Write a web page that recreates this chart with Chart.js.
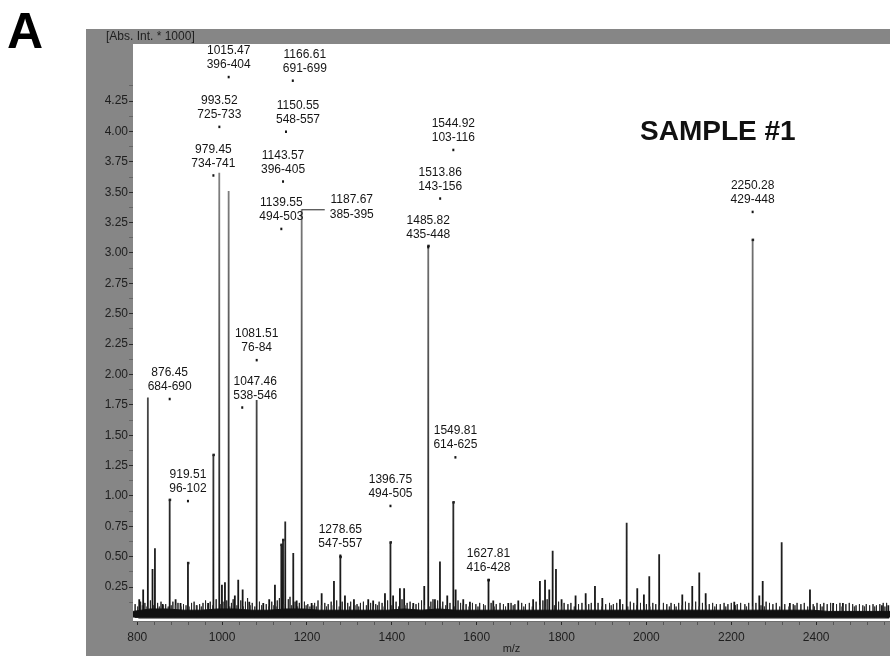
<!DOCTYPE html>
<html>
<head>
<meta charset="utf-8">
<script src="https://cdn.jsdelivr.net/npm/chart.js@4/dist/chart.umd.min.js"></script>
<style>
  html, body { margin: 0; padding: 0; background: #fff; overflow: hidden; }
  canvas { display: block; }
</style>
</head>
<body>
<canvas id="spectrum" width="890" height="656"></canvas>
<script>
// peaks that stand out of the noise (m/z, intensity * 1000)
const peakMz = [
  804.7, 814, 825, 836, 841.7, 860, 876.45, 890.4, 902, 919.51,
  940, 967, 979.45, 993.3, 999.6, 1006.7, 1015.4, 1030, 1038, 1048.4,
  1064, 1081.4, 1097, 1111, 1124.5, 1139.55, 1143.57, 1148.8, 1167.7, 1175.7,
  1187.5, 1211, 1234.6, 1263.6, 1278.65, 1289.5, 1310.7, 1344.4, 1356, 1383.8,
  1396.75, 1403, 1419, 1429, 1450.5, 1476.4, 1485.82, 1501.6, 1513.4, 1530.6,
  1544.92, 1550.4, 1568.3, 1584, 1627.81, 1639, 1674.4, 1698, 1733, 1749,
  1761, 1771, 1779, 1786.8, 1800, 1833, 1856.8, 1878.7, 1896, 1937.6,
  1953.4, 1978.4, 1994, 2006.7, 2030, 2084.5, 2108, 2124.5, 2139.6, 2207,
  2250.28, 2266, 2274, 2318.7, 2338, 2385.4, 2440, 2463, 2555, 2570
]
const peakHeight = [
  0.15, 0.23, 1.81, 0.40, 0.57, 0.11, 0.97, 0.15, 0.12, 0.45,
  0.10, 0.12, 1.34, 3.66, 0.27, 0.29, 3.51, 0.18, 0.31, 0.23,
  0.13, 1.79, 0.12, 0.15, 0.27, 0.60, 0.64, 0.79, 0.53, 0.14,
  3.36, 0.12, 0.20, 0.30, 0.50, 0.18, 0.15, 0.15, 0.14, 0.20,
  0.62, 0.18, 0.24, 0.24, 0.12, 0.26, 3.06, 0.15, 0.46, 0.18,
  0.95, 0.23, 0.15, 0.13, 0.31, 0.14, 0.12, 0.14, 0.15, 0.30,
  0.31, 0.23, 0.55, 0.40, 0.15, 0.18, 0.20, 0.26, 0.16, 0.15,
  0.78, 0.24, 0.19, 0.34, 0.52, 0.19, 0.26, 0.37, 0.20, 0.13,
  3.11, 0.18, 0.30, 0.62, 0.12, 0.23, 0.12, 0.12, 0.10, 0.10
]

// small grass peaks on top of the baseline noise
const grassMz = [
  795, 808, 818, 831, 848, 856, 867, 884, 896, 909, 928, 934, 947, 955, 961,
  972, 986, 1002, 1011, 1022, 1026, 1044, 1055, 1060, 1071, 1088, 1104, 1117, 1130, 1135,
  1156, 1160, 1172, 1182, 1194, 1202, 1218, 1226, 1242, 1250, 1257, 1270, 1283, 1296, 1303,
  1318, 1326, 1333, 1350, 1362, 1370, 1377, 1390, 1410, 1424, 1436, 1443, 1457, 1463, 1470,
  1492, 1497, 1508, 1520, 1537, 1556, 1562, 1575, 1590, 1598, 1607, 1616, 1634, 1646, 1655,
  1663, 1681, 1690, 1706, 1715, 1724, 1740, 1756, 1766, 1793, 1806, 1815, 1822, 1840, 1848,
  1864, 1870, 1886, 1904, 1913, 1922, 1930, 1944, 1962, 1970, 1986, 2000, 2015, 2022, 2040,
  2048, 2058, 2066, 2076, 2092, 2100, 2116, 2132, 2148, 2156, 2165, 2174, 2183, 2192, 2200,
  2214, 2222, 2232, 2241, 2258, 2282, 2290, 2298, 2306, 2326, 2346, 2355, 2364, 2372, 2393,
  2402, 2410, 2418, 2426, 2434, 2448, 2456, 2470, 2478, 2486, 2494, 2502, 2510, 2518, 2526,
  2534, 2542, 2550, 2558, 2566
]
const grassHeight = [
  0.11, 0.13, 0.12, 0.14, 0.12, 0.13, 0.11, 0.13, 0.12, 0.11, 0.12, 0.13, 0.11, 0.12, 0.14,
  0.13, 0.15, 0.13, 0.14, 0.12, 0.15, 0.14, 0.13, 0.16, 0.12, 0.13, 0.11, 0.13, 0.14, 0.16,
  0.15, 0.17, 0.13, 0.12, 0.13, 0.11, 0.12, 0.14, 0.12, 0.11, 0.13, 0.14, 0.13, 0.12, 0.13,
  0.11, 0.12, 0.13, 0.12, 0.11, 0.13, 0.12, 0.14, 0.13, 0.15, 0.12, 0.13, 0.11, 0.12, 0.14,
  0.13, 0.15, 0.14, 0.13, 0.12, 0.14, 0.12, 0.11, 0.12, 0.11, 0.12, 0.11, 0.12, 0.11, 0.12,
  0.11, 0.12, 0.11, 0.12, 0.11, 0.12, 0.13, 0.14, 0.15, 0.13, 0.12, 0.11, 0.12, 0.11, 0.12,
  0.11, 0.12, 0.12, 0.11, 0.12, 0.11, 0.12, 0.11, 0.13, 0.12, 0.12, 0.11, 0.12, 0.11, 0.12,
  0.11, 0.12, 0.11, 0.12, 0.13, 0.12, 0.13, 0.12, 0.11, 0.12, 0.11, 0.11, 0.12, 0.11, 0.12,
  0.11, 0.12, 0.11, 0.12, 0.12, 0.13, 0.12, 0.11, 0.12, 0.11, 0.11, 0.12, 0.11, 0.12, 0.11,
  0.12, 0.11, 0.12, 0.11, 0.12, 0.11, 0.12, 0.11, 0.12, 0.11, 0.10, 0.11, 0.10, 0.11, 0.10,
  0.11, 0.10, 0.11, 0.12, 0.12
]

// finer fuzz between the grass peaks
const fuzzMz = [
  801, 812, 823, 838, 852, 862, 873, 880, 890, 903, 915, 922, 940, 951, 966,
  978, 997, 1007, 1018, 1035, 1050, 1066, 1077, 1093, 1110, 1122, 1127, 1145, 1164, 1178,
  1198, 1207, 1214, 1222, 1234, 1246, 1262, 1276, 1290, 1300, 1313, 1322, 1340, 1356, 1366,
  1382, 1400, 1416, 1431, 1450, 1477, 1488, 1503, 1515, 1527, 1548, 1568, 1582, 1603, 1620,
  1641, 1668, 1686, 1711, 1731, 1748, 1761, 1783, 1800, 1830, 1857, 1878, 1895, 1917, 1938,
  1956, 1977, 1994, 2008, 2030, 2054, 2070, 2084, 2108, 2124, 2140, 2161, 2187, 2210, 2236,
  2250, 2270, 2278, 2314, 2336, 2350, 2380, 2396, 2414, 2440, 2461, 2490, 2514, 2538, 2562
]
const fuzzHeight = [
  0.09, 0.10, 0.09, 0.10, 0.09, 0.10, 0.09, 0.10, 0.10, 0.09, 0.10, 0.09, 0.10, 0.09, 0.10,
  0.10, 0.11, 0.10, 0.09, 0.10, 0.09, 0.10, 0.09, 0.10, 0.09, 0.10, 0.09, 0.11, 0.10, 0.09,
  0.10, 0.09, 0.10, 0.09, 0.10, 0.09, 0.10, 0.09, 0.10, 0.09, 0.10, 0.09, 0.10, 0.09, 0.10,
  0.09, 0.10, 0.09, 0.10, 0.09, 0.10, 0.09, 0.10, 0.09, 0.10, 0.09, 0.10, 0.09, 0.09, 0.10,
  0.09, 0.09, 0.10, 0.09, 0.09, 0.10, 0.09, 0.10, 0.09, 0.09, 0.10, 0.09, 0.09, 0.10, 0.09,
  0.09, 0.10, 0.09, 0.09, 0.10, 0.09, 0.09, 0.10, 0.09, 0.09, 0.10, 0.09, 0.09, 0.10, 0.09,
  0.09, 0.10, 0.09, 0.09, 0.09, 0.10, 0.09, 0.09, 0.09, 0.10, 0.09, 0.09, 0.09, 0.09, 0.09
]

// dense baseline noise band
const noiseMz = [
  790, 830, 870, 910, 950, 990, 1030, 1070, 1110, 1150, 1190, 1230, 1270, 1310, 1350, 1390,
  1430, 1470, 1510, 1550, 1590, 1630, 1670, 1710, 1750, 1790, 1830, 1870, 1910, 1950, 1990,
  2030, 2070, 2110, 2150, 2190, 2230, 2270, 2310, 2350, 2390, 2430, 2470, 2510, 2550, 2590
]
const noiseHeight = [
  0.05, 0.07, 0.07, 0.06, 0.06, 0.07, 0.07, 0.06, 0.06, 0.07, 0.07, 0.06, 0.06, 0.06, 0.06, 0.06,
  0.07, 0.06, 0.07, 0.06, 0.06, 0.06, 0.06, 0.06, 0.06, 0.06, 0.06, 0.06, 0.06, 0.06, 0.06,
  0.06, 0.06, 0.06, 0.06, 0.06, 0.06, 0.06, 0.06, 0.06, 0.06, 0.05, 0.05, 0.05, 0.05, 0.05
]

// annotations: m/z, height of the marker dot, peptide range
const labelMz = [876.45, 919.51, 979.45, 993.52, 1015.47, 1047.46, 1081.51, 1139.55, 1143.57, 1150.55,
  1166.61, 1187.67, 1278.65, 1396.75, 1485.82, 1513.86, 1544.92, 1549.81, 1627.81, 2250.28]
const labelHeight = [1.80, 0.96, 3.64, 4.04, 4.45, 1.73, 2.12, 3.20, 3.59, 4.00,
  4.42, 3.36, 0.51, 0.92, 3.05, 3.45, 3.85, 1.32, 0.31, 3.34]
const labelRange = ['684-690', '96-102', '734-741', '725-733', '396-404', '538-546', '76-84', '494-503', '396-405', '548-557',
  '691-699', '385-395', '547-557', '494-505', '435-448', '143-156', '103-116', '614-625', '416-428', '429-448']

const GRAY = '#868686'
const FONT = '"Liberation Sans", Arial, sans-serif'
// a few labels sit right of their dot, one hangs on a leader line
const labelShift = {'1047.46': 13, '1150.55': 12, '1166.61': 12}
const leaderLabels = ['1187.67']

function sticks(mz, h){
    const pts = []
    for (let i = 0; i < mz.length; i++){
        pts.push({x: mz[i], y: 0}, {x: mz[i], y: h[i]}, {x: mz[i], y: 0})
    }
    return pts
}

const framePlugin = {
    id: 'frame',
    beforeDraw(chart){
        const c = chart.ctx
        const a = chart.chartArea
        c.save()
        c.fillStyle = '#fff'
        c.fillRect(0, 0, chart.width, chart.height)
        c.fillStyle = GRAY
        c.fillRect(a.left - 47, a.top - 15, chart.width, chart.height)
        c.fillStyle = '#fff'
        c.fillRect(a.left, a.top, a.right - a.left, a.bottom - a.top)
        c.restore()
    },
    afterDraw(chart){
        const c = chart.ctx
        const a = chart.chartArea
        const xs = chart.scales.x
        const ys = chart.scales.y
        c.save()
        // panel letter, unit and sample name
        c.fillStyle = '#000'
        c.font = 'bold 50px ' + FONT
        c.textBaseline = 'alphabetic'
        c.fillText('A', 7, 48)
        c.fillStyle = '#1e1e1e'
        c.font = '12px ' + FONT
        c.textBaseline = 'middle'
        c.fillText('[Abs. Int. * 1000]', a.left - 27, a.top - 7)
        c.fillStyle = '#111'
        c.font = 'bold 28px ' + FONT
        c.textBaseline = 'alphabetic'
        c.fillText('SAMPLE #1', a.left + 507, a.top + 96)

        // marker dots on annotated peak tops
        c.fillStyle = '#222'
        for (let i = 0; i < peakMz.length; i++){
            if (labelMz.indexOf(peakMz[i]) >= 0){
                const px = xs.getPixelForValue(peakMz[i])
                const py = ys.getPixelForValue(peakHeight[i])
                c.fillRect(px - 1, py - 1, 2.5, 2.5)
            }
        }

        // annotations
        c.font = '12px ' + FONT
        c.textBaseline = 'middle'
        c.textAlign = 'center'
        for (let i = 0; i < labelMz.length; i++){
            const key = labelMz[i].toFixed(2)
            const px = xs.getPixelForValue(labelMz[i])
            const py = ys.getPixelForValue(labelHeight[i])
            c.fillStyle = '#151515'
            if (leaderLabels.indexOf(key) >= 0){
                c.strokeStyle = '#444'
                c.lineWidth = 1.2
                c.beginPath()
                c.moveTo(px, py + 0.5)
                c.lineTo(px + 23, py + 0.5)
                c.stroke()
                c.fillText(key, px + 50, py - 9.5)
                c.fillText(labelRange[i], px + 50, py + 5.5)
                continue
            }
            const dx = labelShift[key] || 0
            c.fillRect(px - 1, py - 1, 2, 2.5)
            c.fillText(key, px + dx, py - 26)
            c.fillText(labelRange[i], px + dx, py - 12)
        }
        c.restore()
    }
}

function peakColor(ctx){
    const chart = ctx.chart
    if (!chart.chartArea) return '#444'
    const y = chart.scales.y
    const g = chart.ctx.createLinearGradient(0, y.getPixelForValue(4.5), 0, y.getPixelForValue(0))
    g.addColorStop(0, '#9a9a9a')
    g.addColorStop(0.4, '#666')
    g.addColorStop(0.78, '#2e2e2e')
    g.addColorStop(1, '#111')
    return g
}

const spectrum = new Chart('spectrum', {
    type: 'scatter',
    data: {
        datasets: [
            {
                label: 'noise',
                data: noiseMz.map((m, i) => ({x: m, y: noiseHeight[i]})),
                showLine: true,
                fill: 'origin',
                backgroundColor: '#111',
                borderColor: '#111',
                borderWidth: 1,
                pointRadius: 0,
                tension: 0
            },
            {
                label: 'fuzz',
                data: sticks(fuzzMz, fuzzHeight),
                showLine: true,
                borderColor: '#333',
                borderWidth: 1,
                pointRadius: 0
            },
            {
                label: 'grass',
                data: sticks(grassMz, grassHeight),
                showLine: true,
                borderColor: '#262626',
                borderWidth: 1,
                pointRadius: 0
            },
            {
                label: 'peaks',
                data: sticks(peakMz, peakHeight),
                showLine: true,
                borderColor: peakColor,
                borderWidth: 1.8,
                pointRadius: 0
            }
        ]
    },
    options: {
        responsive: false,
        animation: false,
        events: [],
        layout: {padding: {left: 86, top: 44, right: 0, bottom: 0}},
        plugins: {legend: {display: false}, tooltip: {enabled: false}},
        scales: {
            x: {
                type: 'linear',
                min: 790,
                max: 2574,
                afterFit(scale){ scale.height = 35 },
                grid: {
                    drawOnChartArea: false,
                    tickLength: 4,
                    tickColor: (ctx) => ctx.tick && ctx.tick.value % 200 === 0 ? '#2a2a2a' : '#555'
                },
                border: {display: true, color: '#6e6e6e', width: 1},
                ticks: {
                    stepSize: 40,
                    includeBounds: false,
                    maxTicksLimit: 200,
                    autoSkip: false,
                    maxRotation: 0,
                    padding: 5,
                    color: '#1e1e1e',
                    font: {family: FONT, size: 12},
                    callback: (v) => v % 200 === 0 ? String(v) : ''
                },
                title: {
                    display: true,
                    text: 'm/z',
                    color: '#1e1e1e',
                    font: {family: FONT, size: 11},
                    padding: {top: 0, bottom: 0}
                }
            },
            y: {
                min: -0.029,
                max: 4.72,
                afterFit(scale){ scale.width = 47 },
                grid: {
                    drawOnChartArea: false,
                    tickLength: 4,
                    tickColor: (ctx) => {
                        const v = ctx.tick ? ctx.tick.value : 0
                        if (v <= 0.01 || v > 4.4) return 'rgba(0,0,0,0)'
                        return Math.abs(v / 0.25 - Math.round(v / 0.25)) < 0.01 ? '#2a2a2a' : '#666'
                    }
                },
                border: {display: false},
                ticks: {
                    stepSize: 0.125,
                    includeBounds: false,
                    maxTicksLimit: 200,
                    autoSkip: false,
                    padding: 1,
                    color: '#1e1e1e',
                    font: {family: FONT, size: 12},
                    callback: (v) => {
                        if (v < 0.2 || v > 4.3) return ''
                        if (Math.abs(v / 0.25 - Math.round(v / 0.25)) > 0.01) return ''
                        return v.toFixed(2)
                    }
                }
            }
        }
    },
    plugins: [framePlugin]
})
</script>
</body>
</html>
